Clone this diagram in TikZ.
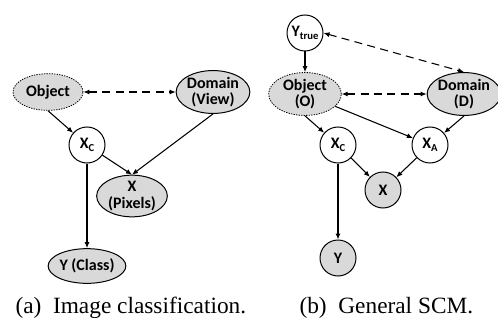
\documentclass[tikz,border=0pt]{standalone}
\usepackage{fontspec}
\setmainfont{Liberation Serif}
\newfontfamily\nodefont{Carlito}
\usetikzlibrary{shapes.geometric,arrows.meta}

\newcommand{\lowsub}[1]{\raisebox{-0.35ex}{\fontsize{8}{8}\selectfont #1}}

\tikzset{every picture/.style={line width=0.75pt}}
\tikzset{
  nodetext/.style={inner sep=0pt, align=center, font=\nodefont\bfseries\fontsize{12}{12.5}\selectfont},
  obsellipse/.style={nodetext, ellipse, draw, fill={rgb, 255:red, 217; green, 217; blue, 217}, minimum width=52.5pt, minimum height=27.5pt},
  dotellipse/.style={obsellipse, line width=0.6pt, dash pattern={on 1pt off 0.9pt}},
  latcircle/.style={nodetext, circle, draw, fill=white, minimum size=27pt},
  obscircle/.style={latcircle, fill={rgb, 255:red, 217; green, 217; blue, 217}},
  arr/.style={-{Latex[length=4.5pt,width=3.8pt]}, line width=0.8pt},
  dasharr/.style={{Latex[length=4.5pt,width=3.8pt]}-{Latex[length=4.5pt,width=3.8pt]}, line width=0.8pt, dash pattern={on 6pt off 4pt}},
  captext/.style={inner sep=0pt, anchor=base west, font=\fontsize{17.5}{19}\selectfont}
}

\begin{document}
\begin{tikzpicture}[x=0.75pt,y=0.75pt,yscale=-1,xscale=1]
\useasboundingbox (0,0) rectangle (498,320);

%Shape: Ellipse (a)
\node [dotellipse] (obja) at (48,92) {Object};
\node [obsellipse] (doma) at (213,92) {Domain\\(View)};
\node [latcircle] (xca) at (87,145) {X\lowsub{C}};
\node [obsellipse, minimum width=53pt, minimum height=26pt] (xa) at (132,196) {X\\(Pixels)};
\node [obsellipse, minimum height=26pt] (ya) at (87,266) {Y (Class)};

%Shape: Ellipse (b)
\node [latcircle] (ytb) at (305,33) {Y\lowsub{true}};
\node [dotellipse, minimum width=54.5pt, minimum height=28.5pt] (objb) at (305,94) {Object\\(O)};
\node [obsellipse, minimum width=49.5pt, minimum height=28.5pt] (domb) at (464,94) {Domain\\(D)};
\node [latcircle] (xcb) at (338,145) {X\lowsub{C}};
\node [latcircle] (xab) at (430,145) {X\lowsub{A}};
\node [obscircle] (xb) at (383,190) {X};
\node [obscircle] (yb) at (338,258) {Y};

%Straight Lines (a)
\draw [dasharr] (obja) -- (doma);
\draw [arr] (obja.south) -- (xca);
\draw [arr] (xca) -- (xa.north);
\draw [arr] (doma.south) -- (xa.north);
\draw [arr] (xca) -- (ya);

%Straight Lines (b)
\draw [dasharr] (ytb.east) -- (domb.north);
\draw [dasharr] (objb) -- (domb);
\draw [arr] (ytb) -- (objb);
\draw [arr] (objb.south) -- (xcb);
\draw [arr] (objb) -- (xab);
\draw [arr] (domb.south) -- (xab);
\draw [arr] (xcb) -- (xb);
\draw [arr] (xab) -- (xb);
\draw [arr] (xcb) -- (yb);

% Text Node
\node [captext] (capa) at (15,313) {(a)\enspace Image classification.};
% Text Node
\node [captext] (capb) at (299,313) {(b)\enspace General SCM.};

\end{tikzpicture}
\end{document}
